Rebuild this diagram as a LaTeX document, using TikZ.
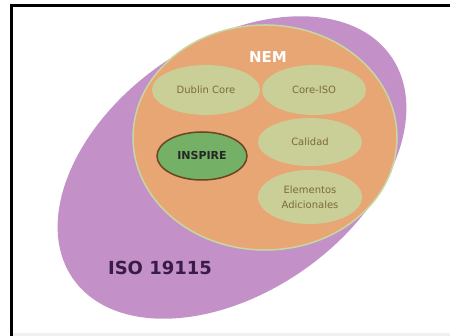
\documentclass[tikz,border=0pt]{standalone}
\usepackage{fontspec}
\setmainfont{DejaVu Sans}
\usetikzlibrary{shapes.geometric}
\definecolor{isopurple}{HTML}{C391C7}
\definecolor{isotext}{HTML}{3A1A46}
\definecolor{nemorange}{HTML}{E8A675}
\definecolor{nemline}{HTML}{C6D8A2}
\definecolor{olivefill}{HTML}{C9CF96}
\definecolor{olivetext}{HTML}{7C6B3C}
\definecolor{inspiregreen}{HTML}{74B066}
\definecolor{inspirebrown}{HTML}{6A4520}
\tikzset{
  subset/.style={
    ellipse,
    fill=olivefill,
    inner sep=0pt,
    align=center,
    text=olivetext,
    font=\fontsize{10}{15}\selectfont
  },
  mainset/.style={ellipse, inner sep=0pt},
  setlabel/.style={font=\bfseries}
}

\begin{document}
\begin{tikzpicture}[x=1pt, y=1pt]
  \useasboundingbox (0,0) rectangle (450,336);
  \fill[white] (0,0) rectangle (450,336);
  \fill[black!6] (11,0) rectangle (450,2.5);
  \draw[line width=3pt] (11.5,0) |- (450,330);

  \node[mainset, fill=isopurple, rotate=35,
    minimum width=388pt, minimum height=250pt] (iso) at (232,168.5) {};
  \node[mainset, fill=nemorange, draw=nemline, line width=1.5pt,
    minimum width=264pt, minimum height=225pt] (nem) at (265,198.5) {};

  \node[subset, minimum width=108pt, minimum height=50pt] (dublin)
    at (206,246) {Dublin Core};
  \node[subset, minimum width=104pt, minimum height=50pt] (coreiso)
    at (314,246) {Core-ISO};
  \node[subset, minimum width=104pt, minimum height=48pt] (calidad)
    at (310,194) {Calidad};
  \node[subset, minimum width=104pt, minimum height=54pt] (elementos)
    at (310,139) {Elementos\\Adicionales};
  \node[subset, fill=inspiregreen, draw=inspirebrown, line width=1.5pt,
    text=black!85, font=\fontsize{11}{13}\selectfont\bfseries,
    minimum width=90pt, minimum height=48pt] (inspire)
    at (202,180) {INSPIRE};

  \node[setlabel, text=white, font=\fontsize{15}{17}\selectfont\bfseries]
    (nemlabel) at (268,279) {NEM};
  \node[setlabel, text=isotext, font=\fontsize{18}{21}\selectfont\bfseries]
    (isolabel) at (160,68) {ISO 19115};
\end{tikzpicture}
\end{document}
